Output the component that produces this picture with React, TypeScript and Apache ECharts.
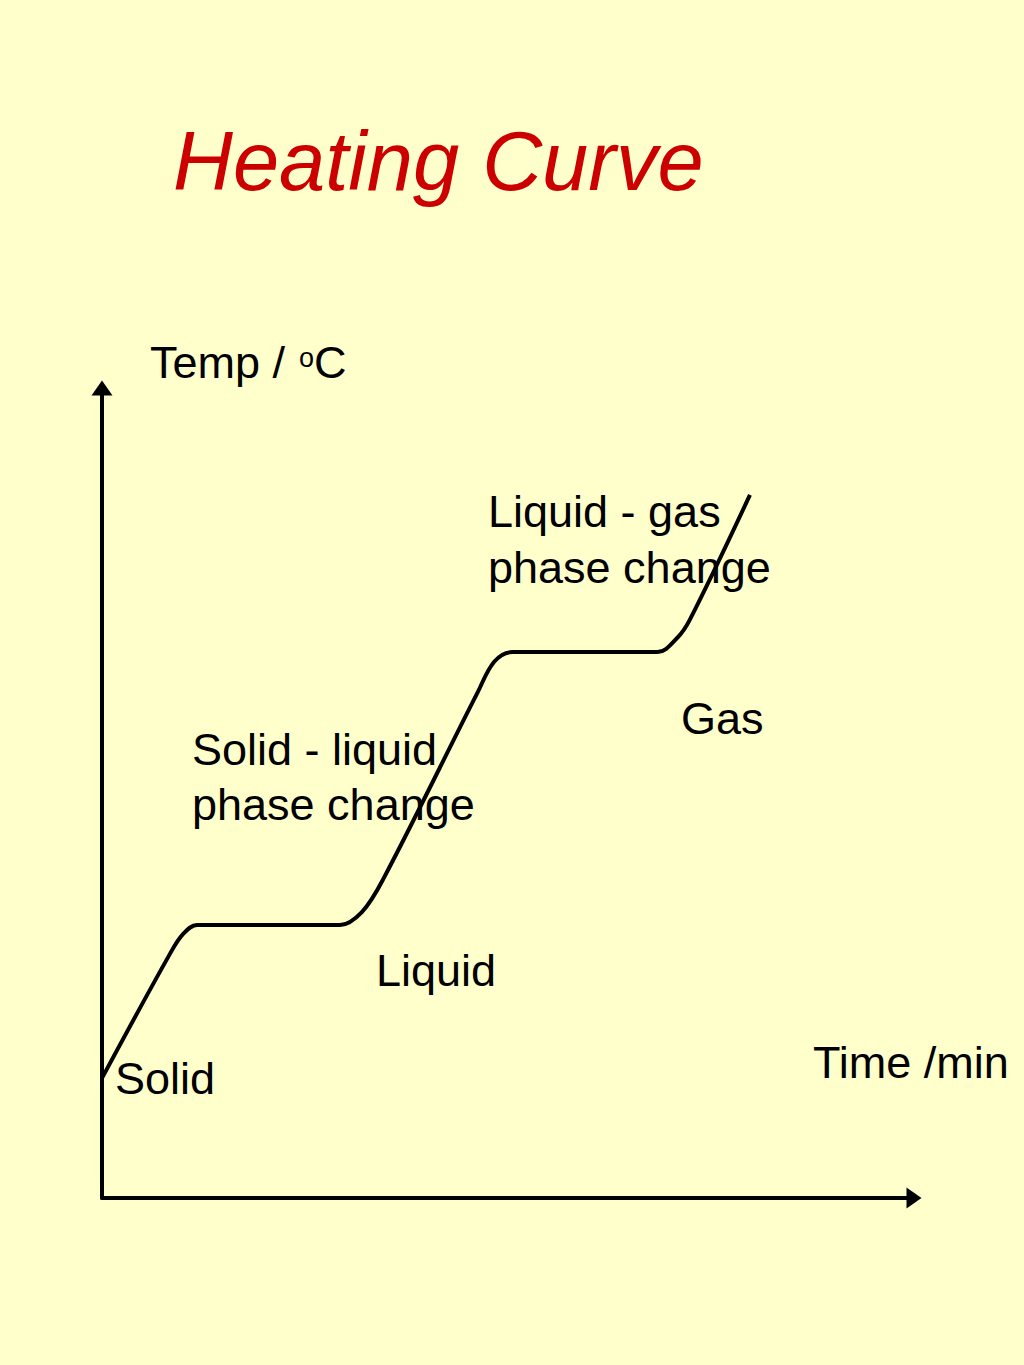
import React, { useEffect, useRef } from "react";
import * as echarts from "echarts";

// Heating curve (time in arbitrary units 0-100, temperature 0-100)
const timeValues = [0, 8.4, 10.0, 11.7, 29.3, 32.0, 34.6, 46.2, 48.3, 50.5, 68.4, 70.8, 72.4, 79.8];
const tempValues = [14.8, 30.2, 32.6, 33.7, 33.7, 35.3, 39.3, 62.3, 66.2, 67.4, 67.4, 69.1, 71.4, 86.8];

const titleText = "Heating Curve";
const yAxisTitle = ["Temp / ", "o", "C"];
const xAxisTitle = "Time /min";
const phaseLabels = [
  { text: "Liquid - gas", x: 488, y: 511 },
  { text: "phase change", x: 488, y: 567 },
  { text: "Gas", x: 681, y: 718 },
  { text: "Solid - liquid", x: 192, y: 749 },
  { text: "phase change", x: 192, y: 804 },
  { text: "Liquid", x: 376, y: 970 },
  { text: "Solid", x: 115, y: 1078 },
];

const FONT = "'Liberation Sans', Arial, Helvetica, sans-serif";

export default function App() {
  const ref = useRef<HTMLDivElement>(null);
  useEffect(() => {
    if (!ref.current) return;
    const chart = echarts.init(ref.current, undefined, { renderer: "svg" });
    const data = timeValues.map((t, i) => [t, tempValues[i]]);
    const textStyle = (size: number, color = "#000", style = "normal") => ({
      fill: color,
      fontSize: size,
      fontFamily: FONT,
      fontStyle: style,
      verticalAlign: "middle",
      align: "left",
    });
    const axisCommon = {
      type: "value",
      min: 0,
      max: 100,
      axisLine: {
        show: true,
        symbol: ["none", "triangle"],
        symbolSize: [21, 15],
        lineStyle: { color: "#000", width: 4 },
      },
      axisTick: { show: false },
      axisLabel: { show: false },
      splitLine: { show: false },
    };
    chart.setOption({
      animation: false,
      backgroundColor: "#FFFFCC",
      grid: { left: 102, right: 110, top: 388, bottom: 167 },
      xAxis: { ...axisCommon },
      yAxis: { ...axisCommon },
      series: [
        {
          type: "line",
          data,
          smooth: 0.35,
          showSymbol: false,
          z: 3,
          lineStyle: { color: "#000", width: 4 },
        },
      ],
      graphic: [
        {
          type: "text",
          x: 173,
          y: 161,
          z: 1,
          style: { text: titleText, ...textStyle(83, "#CC0000", "italic") },
        },
        { type: "text", x: 150, y: 362, z: 1, style: { text: yAxisTitle[0], ...textStyle(45) } },
        { type: "text", x: 299, y: 358, z: 1, style: { text: yAxisTitle[1], ...textStyle(27) } },
        { type: "text", x: 314, y: 362, z: 1, style: { text: yAxisTitle[2], ...textStyle(45) } },
        { type: "text", x: 813, y: 1062, z: 1, style: { text: xAxisTitle, ...textStyle(45) } },
        ...phaseLabels.map((l) => ({
          type: "text",
          x: l.x,
          y: l.y,
          z: 1,
          style: { text: l.text, ...textStyle(45) },
        })),
      ],
    });
    return () => chart.dispose();
  }, []);
  return (
    <div
      ref={ref}
      style={{ position: "absolute", left: 0, top: 0, width: 1024, height: 1365 }}
    />
  );
}
